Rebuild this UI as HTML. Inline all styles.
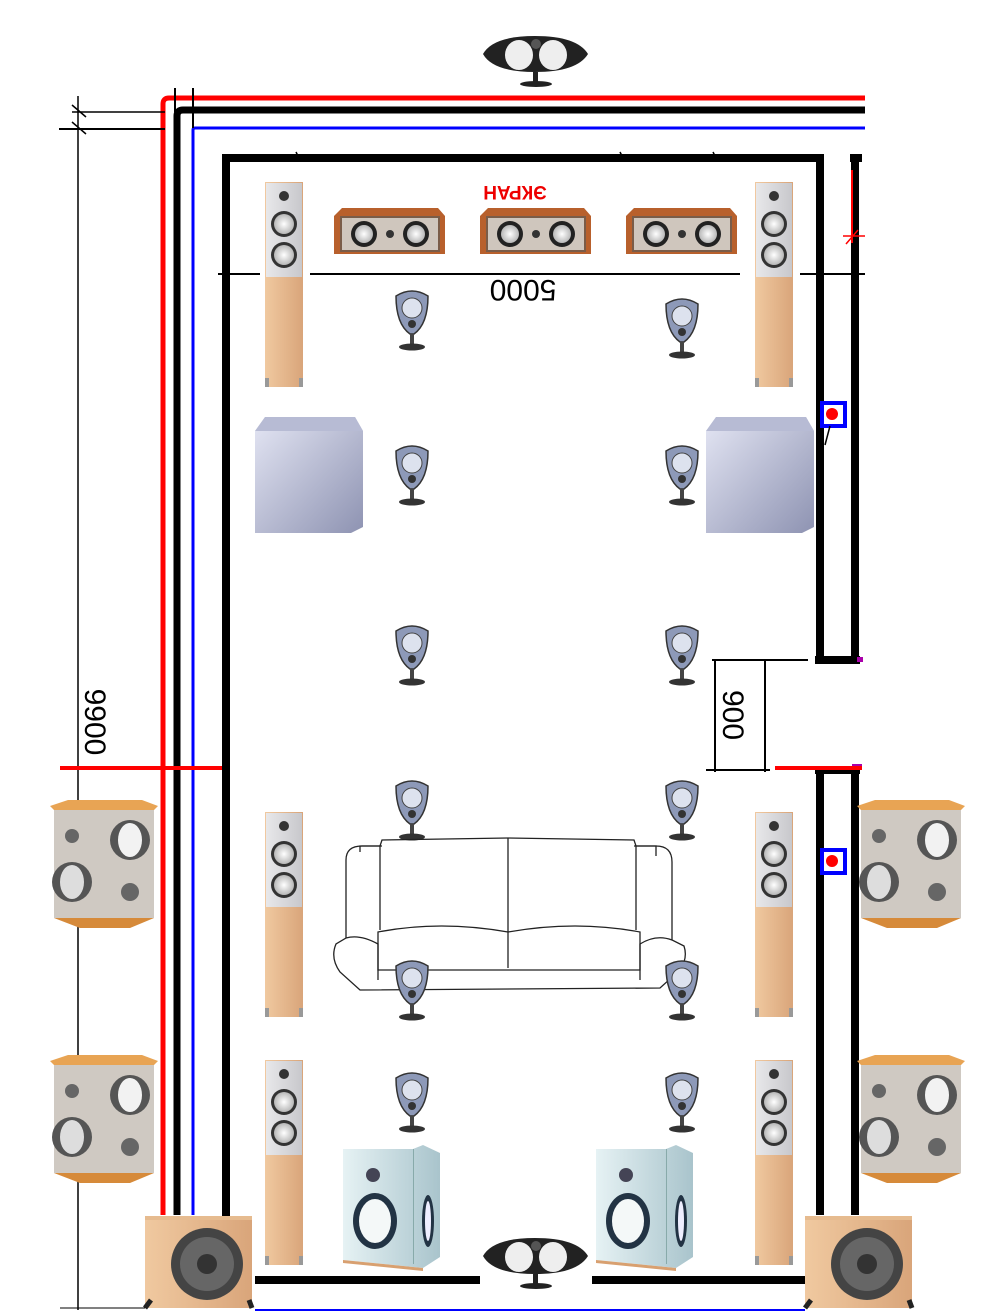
<!DOCTYPE html>
<html><head><meta charset="utf-8"><style>html,body{margin:0;padding:0;background:#fff}svg{display:block}</style></head><body>
<svg width="1000" height="1312" viewBox="0 0 1000 1312" xmlns="http://www.w3.org/2000/svg" font-family="Liberation Sans, sans-serif">
<defs>
<linearGradient id="wood" x1="0" x2="1"><stop offset="0" stop-color="#f0c9a0"/><stop offset="1" stop-color="#d9a57a"/></linearGradient>
<linearGradient id="silver" x1="0" x2="1"><stop offset="0" stop-color="#e8e8ea"/><stop offset="1" stop-color="#c8c8cc"/></linearGradient>
<radialGradient id="cone"><stop offset="0" stop-color="#fff"/><stop offset="1" stop-color="#b8b8b8"/></radialGradient>
<linearGradient id="sub" x1="0" x2="1" y1="0" y2="1"><stop offset="0" stop-color="#e4e6f4"/><stop offset="1" stop-color="#8e93b2"/></linearGradient>
<linearGradient id="cyan" x1="0" x2="1"><stop offset="0" stop-color="#e6f2f4"/><stop offset="1" stop-color="#a9c4cc"/></linearGradient>
<g id="tower">
<rect x="0" y="0" width="38" height="205" fill="url(#wood)"/>
<rect x="1" y="1" width="36" height="94" fill="url(#silver)"/>
<circle cx="19" cy="14" r="5" fill="#333"/>
<circle cx="19" cy="42" r="13" fill="#333"/><circle cx="19" cy="42" r="10" fill="url(#cone)"/>
<circle cx="19" cy="73" r="13" fill="#333"/><circle cx="19" cy="73" r="10" fill="url(#cone)"/>
<rect x="0" y="196" width="4" height="9" fill="#999"/><rect x="34" y="196" width="4" height="9" fill="#999"/>
</g>
<g id="center">
<path d="M0 8 L8 0 L104 0 L111 8 L111 46 L0 46Z" fill="#b8602c"/>
<rect x="6" y="8" width="100" height="36" fill="#7a5c48"/>
<rect x="8" y="10" width="96" height="32" fill="#cfc6bd"/>
<circle cx="30" cy="26" r="13" fill="#222"/><circle cx="30" cy="26" r="9" fill="url(#cone)"/>
<circle cx="82" cy="26" r="13" fill="#222"/><circle cx="82" cy="26" r="9" fill="url(#cone)"/>
<circle cx="56" cy="26" r="4" fill="#333"/>
</g>
<g id="sat">
<path d="M2 6 Q18 -4 34 6 Q34 34 20 44 L16 44 Q2 34 2 6Z" fill="#8d99b8" stroke="#333" stroke-width="1.5"/>
<circle cx="18" cy="18" r="10" fill="#dde2ee" stroke="#444"/>
<circle cx="18" cy="34" r="4" fill="#333"/>
<rect x="16" y="44" width="4" height="10" fill="#444"/>
<ellipse cx="18" cy="57" rx="13" ry="3.5" fill="#333"/>
</g>
<g id="gsub">
<path d="M10 0 L100 0 L108 14 L108 110 L96 116 L0 116 L0 14Z" fill="url(#sub)"/>
<path d="M0 14 L10 0 L100 0 L108 14Z" fill="#b7bbd4"/>
</g>
<g id="surr">
<path d="M0 6 L18 0 L92 0 L108 6 L102 12 L6 12Z" fill="#e8a454"/>
<rect x="4" y="10" width="100" height="108" fill="#cfc9c2"/>
<path d="M4 118 L30 128 L80 128 L104 118Z" fill="#d68a3a"/>
<circle cx="80" cy="40" r="20" fill="#555"/><ellipse cx="80" cy="40" rx="12" ry="17" fill="#f2f2f2"/>
<circle cx="22" cy="82" r="20" fill="#555"/><ellipse cx="22" cy="82" rx="12" ry="17" fill="#ddd"/>
<circle cx="22" cy="36" r="7" fill="#666"/><circle cx="80" cy="92" r="9" fill="#666"/>
</g>
<g id="cyanspk">
<path d="M0 4 L70 4 L80 0 L97 8 L97 112 L80 123 L0 115Z" fill="url(#cyan)"/>
<rect x="70" y="4" width="1" height="115" fill="#8aa"/>
<circle cx="30" cy="30" r="7" fill="#445"/>
<ellipse cx="32" cy="76" rx="22" ry="28" fill="#234"/><ellipse cx="32" cy="76" rx="16" ry="22" fill="#f4f8f8"/>
<ellipse cx="85" cy="76" rx="6" ry="26" fill="#234"/><ellipse cx="85" cy="76" rx="3" ry="20" fill="#eef"/>
<path d="M0 115 L80 123 L80 126 L0 118Z" fill="#d8a070"/>
</g>
<g id="wsub">
<rect x="0" y="0" width="107" height="92" fill="url(#wood)"/>
<rect x="0" y="0" width="107" height="4" fill="#e6bb8f"/>
<circle cx="62" cy="48" r="36" fill="#444"/><circle cx="62" cy="48" r="27" fill="#666"/><circle cx="62" cy="48" r="10" fill="#333"/>
<path d="M0 92 L6 84 M104 84 L107 92" stroke="#222" stroke-width="5"/>
</g>
<g id="blk">
<path d="M0 18 Q10 0 52 0 Q94 0 105 18 Q94 36 52 36 Q10 36 0 18Z" fill="#222"/>
<ellipse cx="36" cy="19" rx="14" ry="15" fill="#eee"/><ellipse cx="70" cy="19" rx="14" ry="15" fill="#eee"/>
<circle cx="53" cy="8" r="5" fill="#555"/>
<rect x="50" y="36" width="5" height="10" fill="#222"/><ellipse cx="53" cy="48" rx="16" ry="3" fill="#222"/>
</g>
</defs>

<!-- cables -->
<path d="M163 1215 V104 Q163 98 169 98 H865" fill="none" stroke="#f00" stroke-width="5"/>
<path d="M177 1215 V116 Q177 110 183 110 H865" fill="none" stroke="#000" stroke-width="7"/>
<path d="M193 1215 V130 Q193 128 195 128 H865" fill="none" stroke="#00f" stroke-width="3"/>
<line x1="175" y1="88" x2="175" y2="112" stroke="#000" stroke-width="2"/>
<line x1="193" y1="88" x2="193" y2="128" stroke="#000" stroke-width="2"/>
<!-- dims left -->
<line x1="78" y1="96" x2="78" y2="1310" stroke="#000" stroke-width="1.5"/>
<line x1="72" y1="112" x2="165" y2="112" stroke="#000" stroke-width="1.5"/>
<line x1="59" y1="129" x2="165" y2="129" stroke="#000" stroke-width="2"/>
<path d="M72 105 L86 117 M72 122 L86 134" stroke="#000" stroke-width="1.5"/>
<line x1="60" y1="1308" x2="145" y2="1308" stroke="#000" stroke-width="1"/>
<text transform="translate(85,722) rotate(90)" text-anchor="middle" font-size="30" fill="#000">9900</text>
<line x1="60" y1="768" x2="230" y2="768" stroke="#f00" stroke-width="4"/>

<!-- room walls -->
<path d="M226 1280 V158 H820 V660" fill="none" stroke="#000" stroke-width="8"/>
<path d="M850 158 H862 M855 158 V660 M815 660 H860" fill="none" stroke="#000" stroke-width="8"/>
<path d="M815 770 H860 M820 770 V1215 M855 770 V1215" fill="none" stroke="#000" stroke-width="8"/>
<rect x="857" y="657" width="6" height="5" fill="#a0a"/><rect x="852" y="764" width="10" height="5" fill="#a0a"/>
<line x1="775" y1="768" x2="862" y2="768" stroke="#f00" stroke-width="4"/>
<line x1="852" y1="170" x2="852" y2="243" stroke="#f00" stroke-width="2"/>
<path d="M843 236 H865 M846 244 L858 230" stroke="#f00" stroke-width="1.5"/>
<line x1="255" y1="1280" x2="480" y2="1280" stroke="#000" stroke-width="8"/>
<line x1="592" y1="1280" x2="805" y2="1280" stroke="#000" stroke-width="8"/>
<line x1="255" y1="1310" x2="805" y2="1310" stroke="#00f" stroke-width="2"/>
<path d="M296 152 L300 160 M620 152 L624 160 M713 152 L717 160" stroke="#000" stroke-width="1.5"/>

<!-- 5000 dim -->
<line x1="218" y1="274" x2="260" y2="274" stroke="#000" stroke-width="2"/>
<line x1="310" y1="274" x2="740" y2="274" stroke="#000" stroke-width="2"/>
<line x1="800" y1="274" x2="865" y2="274" stroke="#000" stroke-width="2"/>
<text transform="translate(523,280) rotate(180)" text-anchor="middle" font-size="30" fill="#000">5000</text>
<text transform="translate(515,186) rotate(180)" text-anchor="middle" font-size="19" font-weight="bold" fill="#e00">ЭКРАН</text>

<!-- 900 dim -->
<path d="M712 660 H808 M706 770 H770 M715 660 V772 M765 660 V772" stroke="#000" stroke-width="2" fill="none"/>
<text transform="translate(723,715) rotate(90)" text-anchor="middle" font-size="30" fill="#000">900</text>

<!-- wall boxes -->
<rect x="822" y="403" width="23" height="23" fill="#fff" stroke="#00f" stroke-width="4"/><circle cx="832" cy="414" r="6" fill="#f00"/>
<line x1="830" y1="426" x2="825" y2="445" stroke="#000" stroke-width="1.5"/>
<rect x="822" y="850" width="23" height="23" fill="#fff" stroke="#00f" stroke-width="4"/><circle cx="832" cy="861" r="6" fill="#f00"/>

<!-- speakers -->
<use href="#blk" x="483" y="36"/>
<use href="#blk" x="483" y="1238"/>
<use href="#center" x="334" y="208"/><use href="#center" x="480" y="208"/><use href="#center" x="626" y="208"/>
<use href="#tower" x="265" y="182"/><use href="#tower" x="755" y="182"/>
<use href="#tower" x="265" y="812"/><use href="#tower" x="755" y="812"/>
<use href="#tower" x="265" y="1060"/><use href="#tower" x="755" y="1060"/>
<use href="#gsub" x="255" y="417"/><use href="#gsub" x="706" y="417"/>
<use href="#sat" x="394" y="290"/><use href="#sat" x="664" y="298"/>
<use href="#sat" x="394" y="445"/><use href="#sat" x="664" y="445"/>
<use href="#sat" x="394" y="625"/><use href="#sat" x="664" y="625"/>
<use href="#sat" x="394" y="780"/><use href="#sat" x="664" y="780"/>
<use href="#surr" x="50" y="800"/><use href="#surr" x="50" y="1055"/>
<use href="#surr" x="857" y="800"/><use href="#surr" x="857" y="1055"/>

<!-- sofa -->
<g fill="none" stroke="#222" stroke-width="1.3">
<path d="M346 860 Q346 846 362 846 L380 846 L382 840 L508 838 L634 840 L636 846 L656 846 Q672 846 672 862 L672 940 L684 946 Q688 958 680 970 L660 988 L360 990 L340 972 Q330 958 336 944 L346 938Z"/>
<path d="M380 846 L380 930 M636 846 L636 930 M508 838 L508 968"/>
<path d="M378 932 Q440 920 508 932 Q576 920 640 932 L640 970 L378 970Z"/>
<path d="M346 938 Q360 934 378 944 L378 980 M672 940 Q656 934 640 944 L640 980"/>
<path d="M360 852 L360 846 L382 846 M634 846 L656 846 L656 856"/>
</g>
<use href="#sat" x="394" y="960"/><use href="#sat" x="664" y="960"/>
<use href="#sat" x="394" y="1072"/><use href="#sat" x="664" y="1072"/>

<use href="#cyanspk" x="343" y="1145"/><use href="#cyanspk" x="596" y="1145"/>
<use href="#wsub" x="145" y="1216"/><use href="#wsub" x="805" y="1216"/>
</svg>
</body></html>
